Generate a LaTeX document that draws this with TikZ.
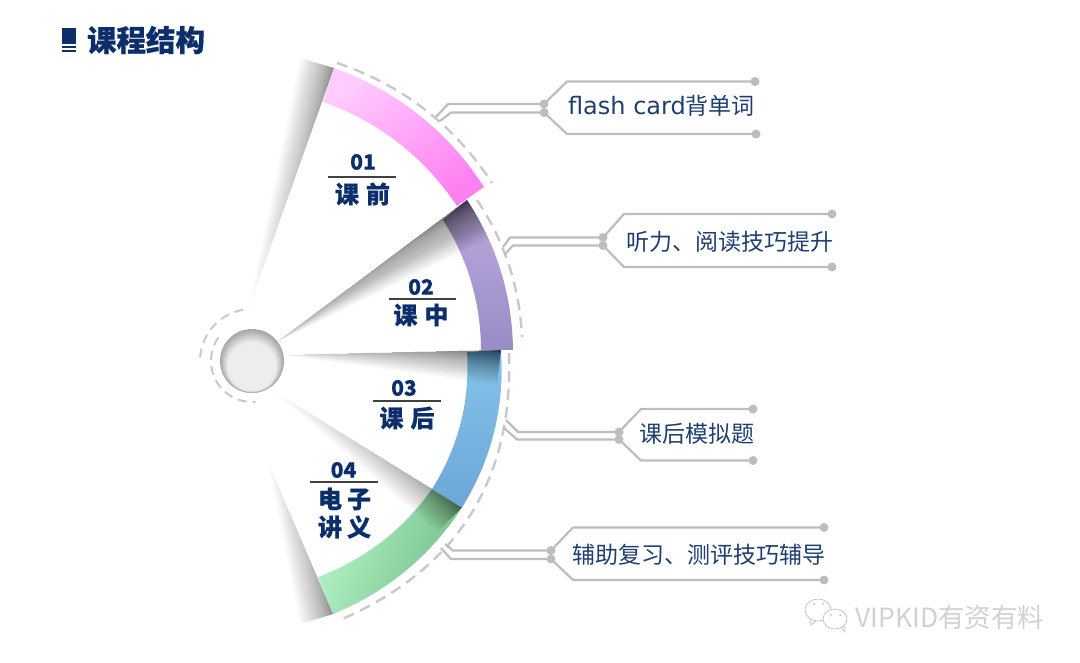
\documentclass[tikz,border=0pt]{standalone}
\usepackage{fontspec}
\usetikzlibrary{calc}
\newfontfamily\cjk[BoldFeatures={FakeBold=0.6}]{Noto Sans CJK SC}
\newfontfamily\latin{DejaVu Sans}
\setmainfont{Liberation Sans}
\definecolor{navy}{HTML}{0C2F6B}
\definecolor{txtblue}{HTML}{1F3F70}
\definecolor{lnk}{HTML}{BDBDBD}
\definecolor{dashc}{HTML}{C9C9C9}
\newcommand\defbow[4]{%
  \coordinate (#1q) at ($(#2)!.5!(#3)!#4*2pt!90:(#3)$);
  \coordinate (#1a) at ($(#2)!2/3!(#1q)$);
  \coordinate (#1b) at ($(#3)!2/3!(#1q)$);
}
% fan: angular shadow, darkest along apex-E, gone at apex-F
\newcommand\fanshade[4]{%
  \foreach \i in {1,...,40}{
    \pgfmathsetmacro\tt{(\i/40)^2}
    \fill[black,opacity=#4] (#1) -- (#2) -- ($(#2)!\tt!(#3)$) -- cycle;
  }}
% corner: shadow darkest at P, gone along Q-R
\newcommand\cornershade[4]{%
  \foreach \i in {1,...,40}{
    \pgfmathsetmacro\tt{(\i/40)^1.7}
    \fill[black,opacity=#4] (#1) -- ($(#1)!\tt!(#2)$) -- ($(#1)!\tt!(#3)$) -- cycle;
  }}
\tikzset{
  link/.style={draw=lnk,line width=2.2pt,line join=round},
  dotmark/.style={circle,fill=lnk,inner sep=0pt,minimum size=9pt},
  dashline/.style={draw=dashc,line width=2.4pt,dash pattern=on 11pt off 7pt},
  itemtxt/.style={text=txtblue,inner sep=0pt,font=\fontsize{23pt}{26pt}\selectfont\cjk},
  numtxt/.style={text=navy,inner sep=0pt,font=\fontsize{21pt}{24pt}\selectfont\cjk\bfseries},
  captxt/.style={text=navy,inner sep=0pt,font=\fontsize{24pt}{28pt}\selectfont\cjk\bfseries},
  rule/.style={draw=black!75,line width=1.4pt},
}
\begin{document}
\begin{tikzpicture}[x=1pt,y=-1pt]
\useasboundingbox (0,0) rectangle (1080,663);
% ---- ring corners
\coordinate (pOA) at (334,68);  \coordinate (pOB) at (484,187);
\coordinate (pIA) at (323,102); \coordinate (pIB) at (457,206);
\coordinate (uOA) at (467,200); \coordinate (uOB) at (513,350);
\coordinate (uIA) at (443,220); \coordinate (uIB) at (481,350);
\coordinate (bOA) at (501,350); \coordinate (bOB) at (462,507.5);
\coordinate (bIA) at (467,352); \coordinate (bIB) at (432,489);
\coordinate (gOA) at (462,507.5); \coordinate (gOB) at (333,614);
\coordinate (gIA) at (432,489); \coordinate (gIB) at (318,577);
\defbow{pO}{pOA}{pOB}{16}
\defbow{pI}{pIA}{pIB}{14}
\defbow{uO}{uOA}{uOB}{11.5}
\defbow{uI}{uIA}{uIB}{9.7}
\defbow{bO}{bOA}{bOB}{13}
\defbow{bI}{bIA}{bIB}{11.4}
\defbow{gO}{gOA}{gOB}{13}
\defbow{gI}{gIA}{gIB}{11}
% ---- outer shadows
\coordinate (s1a) at (248,310); \coordinate (s1b) at (300,58);
\cornershade{pOA}{s1a}{s1b}{0.017}
\coordinate (s4a) at (268,462); \coordinate (s4b) at (300,624);
\cornershade{gOB}{s4a}{s4b}{0.017}
% ---- green segment
\shade[left color={rgb,255:red,178;green,244;blue,198},right color={rgb,255:red,120;green,190;blue,140},shading angle=70]
  (gOA) .. controls (gOa) and (gOb) .. (gOB) -- (gIB)
  .. controls (gIb) and (gIa) .. (gIA) -- cycle;
\coordinate (a4) at (272,390); \coordinate (f4) at (437,532);
\begin{scope}
\clip (a4) -- (gOA) .. controls (gOa) and (gOb) .. (gOB) -- cycle;
\cornershade{gOA}{a4}{f4}{0.016}
\end{scope}
% ---- blue segment
\shade[top color={rgb,255:red,134;green,196;blue,234},bottom color={rgb,255:red,108;green,166;blue,216}]
  (bOA) .. controls (bOa) and (bOb) .. (bOB) -- (bIB)
  .. controls (bIb) and (bIa) .. (bIA) -- cycle;
\coordinate (a3) at (283,355); \coordinate (f3) at (497,385);
\begin{scope}
\clip (a3) -- (bOA) .. controls (bOa) and (bOb) .. (bOB) -- cycle;
\cornershade{bOA}{a3}{f3}{0.014}
\fanshade{a3}{bOA}{f3}{0.004}
\end{scope}
% ---- purple segment
\shade[top color={rgb,255:red,188;green,170;blue,222},bottom color={rgb,255:red,152;green,140;blue,198}]
  (uOA) .. controls (uOa) and (uOb) .. (uOB) -- (uIB)
  .. controls (uIb) and (uIa) .. (uIA) -- cycle;
\coordinate (a2) at (277,342); \coordinate (f2) at (495,236);
\begin{scope}
\clip (a2) -- (uOA) .. controls (uOa) and (uOb) .. (uOB) -- cycle;
\cornershade{uOA}{a2}{f2}{0.015}
\fanshade{a2}{uOA}{f2}{0.007}
\end{scope}
% ---- pink segment
\shade[top color={rgb,255:red,255;green,204;blue,255},bottom color={rgb,255:red,255;green,128;blue,240},shading angle=35]
  (pOA) .. controls (pOa) and (pOb) .. (pOB) -- (pIB)
  .. controls (pIb) and (pIa) .. (pIA) -- cycle;
% ---- dashed arcs
\coordinate (w1s) at (337,63);  \coordinate (w1e) at (492,183);
\coordinate (w2s) at (477,200); \coordinate (w2e) at (522,337);
\coordinate (w3s) at (509,353); \coordinate (w3e) at (340,620);
\defbow{d1}{w1s}{w1e}{17}
\defbow{d2}{w2s}{w2e}{10}
\defbow{d3}{w3s}{w3e}{54}
\draw[dashline] (w1s) .. controls (d1a) and (d1b) .. (w1e);
\draw[dashline] (w2s) .. controls (d2a) and (d2b) .. (w2e);
\draw[dashline] (w3s) .. controls (d3a) and (d3b) .. (w3e);
% ---- hub
\foreach \i in {0,...,24}{
  \pgfmathsetmacro\rr{32-\i*0.6}
  \pgfmathsetmacro\gg{max(7,35-\i*2.3)}
  \fill[black!\gg!white] (252,361+\i*0.45) circle[radius=\rr pt];
}
\coordinate (hub) at (252,361);
\draw[dashline,line width=2pt,dash pattern=on 9pt off 6pt] (hub) ++(215:41) arc[start angle=215,end angle=85,radius=41];
\draw[dashline,line width=2pt,dash pattern=on 9pt off 6pt] (hub) ++(260:52) arc[start angle=260,end angle=178,radius=52];
% ---- title
\fill[navy] (62,28) rectangle (76,44);
\fill[navy] (62,46) rectangle (76,48);
\fill[navy] (62,50) rectangle (76,52);
\node[text=navy,inner sep=0pt,font=\fontsize{29.5pt}{32pt}\selectfont\cjk\bfseries] (title) at (146,40) {课程结构};
% ---- labels
\node[numtxt] (n1) at (363,162) {01};
\coordinate (r1a) at (328,177); \coordinate (r1b) at (396,177);
\draw[rule] (r1a) -- (r1b);
\node[captxt] (c1) at (362.5,194) {课\hspace{7pt}前};
\node[numtxt] (n2) at (421,287) {02};
\coordinate (r2a) at (389,299); \coordinate (r2b) at (456,299);
\draw[rule] (r2a) -- (r2b);
\node[captxt] (c2) at (421,315) {课\hspace{7pt}中};
\node[numtxt] (n3) at (404,388) {03};
\coordinate (r3a) at (373,401); \coordinate (r3b) at (441,401);
\draw[rule] (r3a) -- (r3b);
\node[captxt] (c3) at (407,418) {课\hspace{7pt}后};
\node[numtxt] (n4) at (343.5,470) {04};
\coordinate (r4a) at (310,482); \coordinate (r4b) at (378,482);
\draw[rule] (r4a) -- (r4b);
\node[captxt] (c4a) at (344.5,499) {电\hspace{5pt}子};
\node[captxt] (c4b) at (344.5,527) {讲\hspace{5pt}义};
% ---- callout 1
\node[itemtxt] (t1) at (661.5,106) {{\fontsize{24pt}{26pt}\selectfont\latin flash card}背单词};
\coordinate (k1a) at (567,81.5);  \coordinate (k1b) at (567,134);
\node[dotmark] (e1a) at (755,81.5) {}; \node[dotmark] (e1b) at (756,134) {};
\node[dotmark] (h1a) at (544,104) {}; \node[dotmark] (h1b) at (544,112.5) {};
\coordinate (m1a) at (448,104); \coordinate (m1b) at (451,112.5);
\coordinate (q1a) at (436,117); \coordinate (q1b) at (440,121);
\draw[link] (e1a.center) -- (k1a) -- (h1a.center) -- (m1a) -- (q1a);
\draw[link] (e1b.center) -- (k1b) -- (h1b.center) -- (m1b) -- (q1b);
% ---- callout 2
\node[itemtxt] (t2) at (730,242) {听力、阅读技巧提升};
\coordinate (k2a) at (624,214);  \coordinate (k2b) at (624,267);
\node[dotmark] (e2a) at (832,214) {}; \node[dotmark] (e2b) at (832,267) {};
\node[dotmark] (h2a) at (603,237.5) {}; \node[dotmark] (h2b) at (603,245.5) {};
\coordinate (m2a) at (510,237.5); \coordinate (m2b) at (513,245.5);
\coordinate (q2a) at (503,247); \coordinate (q2b) at (505,254);
\draw[link] (e2a.center) -- (k2a) -- (h2a.center) -- (m2a) -- (q2a);
\draw[link] (e2b.center) -- (k2b) -- (h2b.center) -- (m2b) -- (q2b);
% ---- callout 3
\node[itemtxt] (t3) at (696.5,434) {课后模拟题};
\coordinate (k3a) at (641,409);  \coordinate (k3b) at (641,460.5);
\node[dotmark] (e3a) at (753,409) {}; \node[dotmark] (e3b) at (753,460.5) {};
\node[dotmark] (h3a) at (619,432) {}; \node[dotmark] (h3b) at (619,439.5) {};
\coordinate (m3a) at (518,432); \coordinate (m3b) at (517,439.5);
\coordinate (q3a) at (506,420); \coordinate (q3b) at (503,427);
\draw[link] (e3a.center) -- (k3a) -- (h3a.center) -- (m3a) -- (q3a);
\draw[link] (e3b.center) -- (k3b) -- (h3b.center) -- (m3b) -- (q3b);
% ---- callout 4
\node[itemtxt] (t4) at (699,555) {辅助复习、测评技巧辅导};
\coordinate (k4a) at (573,527.5);  \coordinate (k4b) at (573,580);
\node[dotmark] (e4a) at (824,527.5) {}; \node[dotmark] (e4b) at (824,580) {};
\node[dotmark] (h4a) at (551,550.5) {}; \node[dotmark] (h4b) at (551,559) {};
\coordinate (m4a) at (453,550.5); \coordinate (m4b) at (451,559);
\coordinate (q4a) at (445,544); \coordinate (q4b) at (441,548);
\draw[link] (e4a.center) -- (k4a) -- (h4a.center) -- (m4a) -- (q4a);
\draw[link] (e4b.center) -- (k4b) -- (h4b.center) -- (m4b) -- (q4b);
% ---- watermark
\coordinate (b1) at (818,610); \coordinate (b2) at (835,619);
\begin{scope}[draw=black!22,line width=.8pt]
\draw[fill=white] (b1) ellipse[x radius=13,y radius=11];
\draw (810,619) -- (811,625) -- (816,621);
\draw[fill=white] (b2) ellipse[x radius=12,y radius=10];
\draw (841,627) -- (845,632) -- (845,624);
\fill[black!25] (814,604) circle[radius=1] (823,604) circle[radius=1] (831,615) circle[radius=1] (840,615) circle[radius=1];
\end{scope}
\node[text=black!18,inner sep=0pt,font=\fontsize{26.5pt}{28pt}\selectfont\cjk] (wm) at (950,617) {VIPKID有资有料};
\end{tikzpicture}
\end{document}
